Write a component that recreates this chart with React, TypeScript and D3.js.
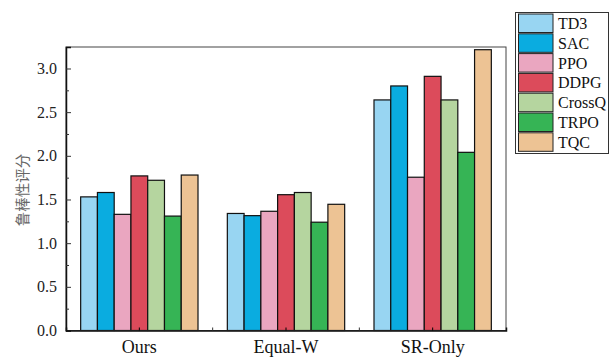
import React, { useRef, useEffect } from "react";
import * as d3 from "d3";

// groups on the x axis
const groups = ["Ours", "Equal-W", "SR-Only"];
// algorithms (legend order)
const methods = ["TD3", "SAC", "PPO", "DDPG", "CrossQ", "TRPO", "TQC"];
const colors = ["#98d5f2", "#0aace0", "#eaa6c0", "#dc4b5b", "#b5d59f", "#36b455", "#edc394"];

// robustness score per method, one array per group
const oursValues = [1.53, 1.58, 1.33, 1.77, 1.72, 1.31, 1.78];
const equalWValues = [1.34, 1.315, 1.365, 1.555, 1.58, 1.24, 1.445];
const srOnlyValues = [2.64, 2.8, 1.755, 2.91, 2.64, 2.04, 3.215];

const yTicks = [0, 0.5, 1.0, 1.5, 2.0, 2.5, 3.0];
const yMinorTicks = [0.25, 0.75, 1.25, 1.75, 2.25, 2.75];

const App = () => {
  const svgRef = useRef<SVGSVGElement>(null);

  useEffect(() => {
    const svg = d3.select(svgRef.current);
    svg.selectAll("*").remove();

    const margin = { top: 47, left: 66 };
    const width = 440,
      height = 283.5;
    const font = "Liberation Serif";

    const g = svg.append("g").attr("transform", `translate(${margin.left},${margin.top})`);

    const x0 = d3.scaleBand().domain(groups).range([0, width]).paddingInner(0.2).paddingOuter(0.1);
    const x1 = d3.scaleBand().domain(methods).range([0, x0.bandwidth()]);
    const y = d3.scaleLinear().domain([0, 3.246]).range([height, 0]);
    const color = d3.scaleOrdinal<string, string>().domain(methods).range(colors);

    const table = [oursValues, equalWValues, srOnlyValues];

    // bars
    groups.forEach((grp, gi) => {
      g.append("g")
        .attr("transform", `translate(${x0(grp)},0)`)
        .selectAll("rect")
        .data(methods.map((m, i) => ({ m, v: table[gi][i] })))
        .enter()
        .append("rect")
        .attr("x", (d) => x1(d.m)!)
        .attr("y", (d) => y(d.v))
        .attr("width", x1.bandwidth())
        .attr("height", (d) => height - y(d.v))
        .attr("fill", (d) => color(d.m))
        .attr("stroke", "#111")
        .attr("stroke-width", 1.2);
    });

    // frame (top / right)
    g.append("rect")
      .attr("x", 0)
      .attr("y", 0)
      .attr("width", width)
      .attr("height", height)
      .attr("fill", "none")
      .attr("stroke", "#444")
      .attr("stroke-width", 1);

    // y axis with inward ticks
    const yAxis = g
      .append("g")
      .call(d3.axisLeft(y).tickValues(yTicks).tickSize(-5).tickPadding(9).tickFormat(d3.format(".1f")));
    yAxis.select(".domain").attr("stroke", "#111").attr("stroke-width", 1.5);
    yAxis.selectAll("text").attr("font-family", font).attr("font-size", 16).attr("fill", "#222");
    yAxis.selectAll(".tick line").attr("stroke", "#333");
    g.append("g")
      .call(d3.axisLeft(y).tickValues(yMinorTicks).tickSize(-3).tickFormat(() => ""))
      .call((a) => a.select(".domain").remove())
      .selectAll(".tick line")
      .attr("stroke", "#333");

    // x axis
    const xAxis = g
      .append("g")
      .attr("transform", `translate(0,${height})`)
      .call(d3.axisBottom(x0).tickSize(-3).tickPadding(10));
    xAxis.select(".domain").attr("stroke", "#111").attr("stroke-width", 1.5);
    xAxis.selectAll("text").attr("font-family", font).attr("font-size", 18).attr("fill", "#111");
    const bounds = [x0.step(), x0.step() * 2];
    xAxis
      .selectAll(".bound")
      .data(bounds)
      .enter()
      .append("line")
      .attr("x1", (d) => d)
      .attr("x2", (d) => d)
      .attr("y1", 0)
      .attr("y2", -3)
      .attr("stroke", "#333");

    // y label
    svg
      .append("text")
      .attr("transform", `translate(28,190) rotate(-90)`)
      .attr("text-anchor", "middle")
      .attr("font-family", "Noto Sans CJK SC")
      .attr("font-size", 14.5)
      .attr("fill", "#666")
      .text("鲁棒性评分");

    // legend
    const legend = svg.append("g").attr("transform", "translate(515.5,12.5)");
    legend
      .append("rect")
      .attr("width", 93)
      .attr("height", 141)
      .attr("fill", "white")
      .attr("stroke", "#333")
      .attr("stroke-width", 1);
    methods.forEach((m, i) => {
      const row = legend.append("g").attr("transform", `translate(3,${1.5 + i * 19.8})`);
      row
        .append("rect")
        .attr("width", 34.5)
        .attr("height", 18.5)
        .attr("fill", color(m))
        .attr("stroke", "#222")
        .attr("stroke-width", 1);
      row
        .append("text")
        .attr("x", 39.5)
        .attr("y", 15)
        .attr("font-family", font)
        .attr("font-size", 16)
        .attr("fill", "#111")
        .text(m);
    });
  }, []);

  return (
    <svg
      ref={svgRef}
      width={613}
      height={359}
      style={{ position: "absolute", left: 0, top: 0, background: "white" }}
    ></svg>
  );
};

export default App;
